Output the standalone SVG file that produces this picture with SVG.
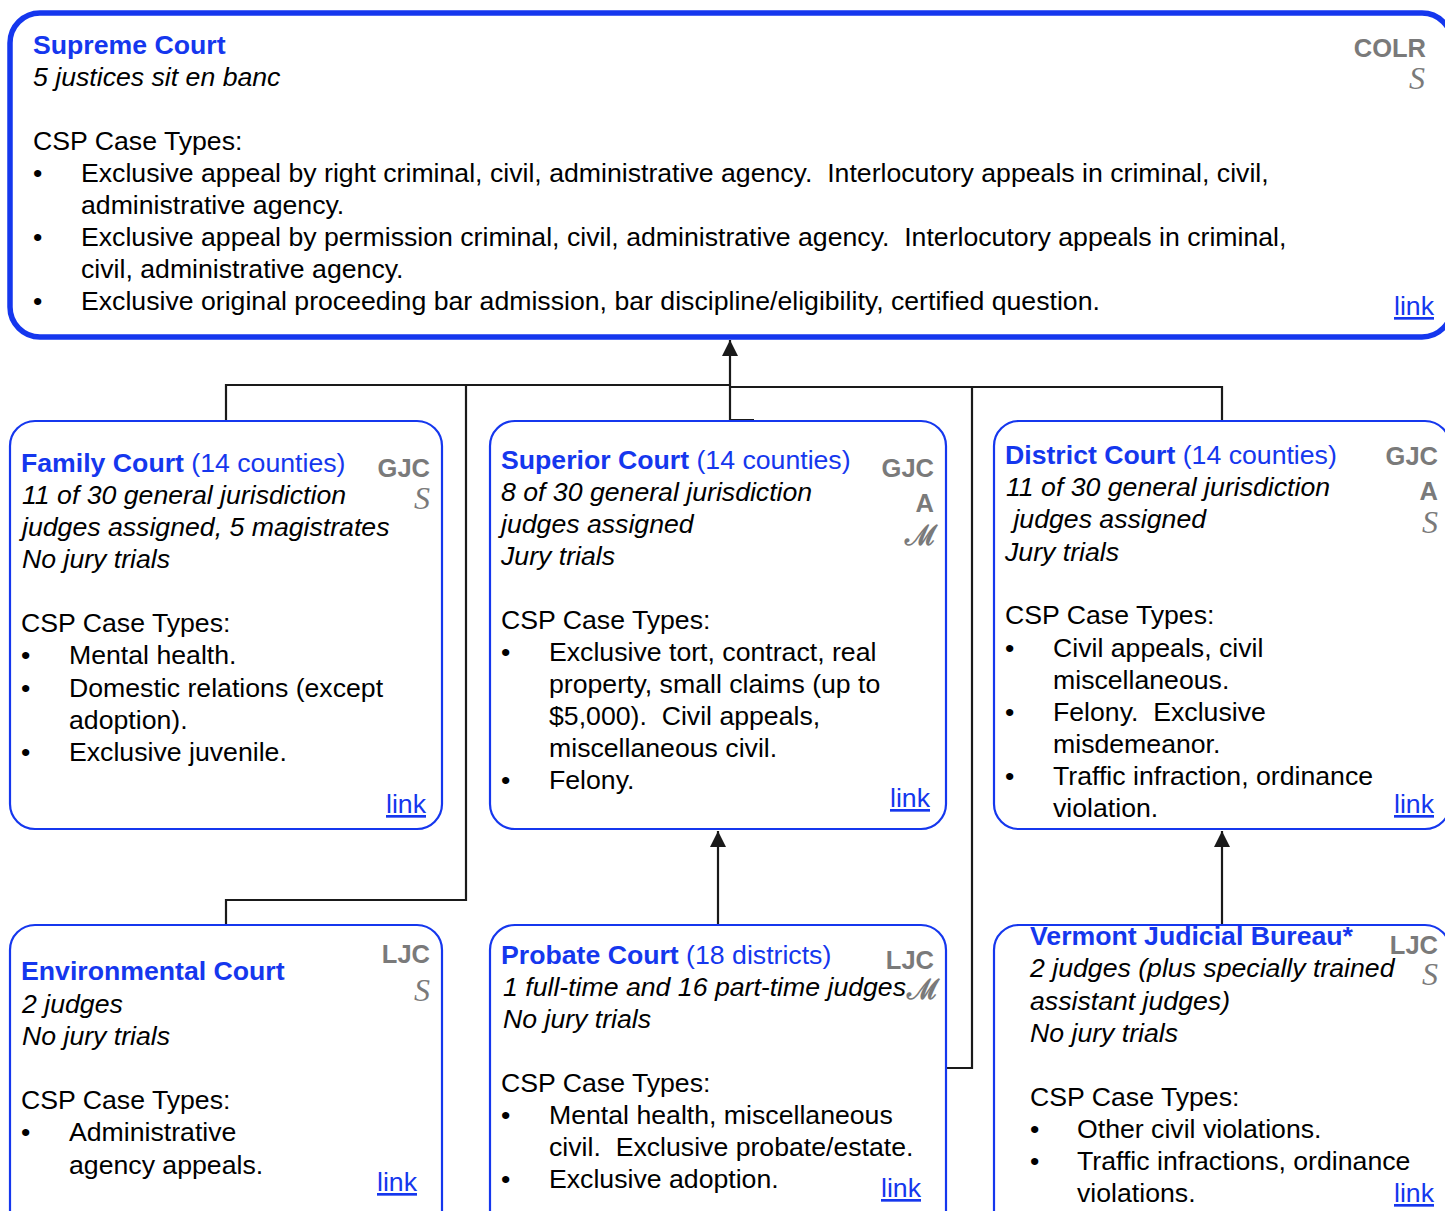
<svg xmlns="http://www.w3.org/2000/svg" width="1445" height="1211" viewBox="0 0 1445 1211">
  <style>
    text { font-family: "Liberation Sans", Arial, sans-serif; font-size: 26.67px; fill: #000; white-space: pre; }
    .title { fill: #1537EE; }
    .title .b { font-weight: bold; }
    .it { font-style: italic; }
    .link { fill: #1537EE; text-decoration: underline; }
    .lvl { fill: #7a7a7a; font-weight: bold; font-size: 25.5px; text-anchor: end; }
    .sym { fill: #7a7a7a; font-family: "Liberation Serif", "Times New Roman", serif; font-style: italic; font-size: 32px; text-anchor: end; }
    .scr { fill: #7a7a7a; font-family: "DejaVu Serif", serif; font-weight: bold; font-size: 28px; text-anchor: end; }
    .box { fill: #fff; stroke: #1537EE; stroke-width: 2.2; }
    .wire { fill: none; stroke: #1a1a1a; stroke-width: 2.2; }
  </style>
  <defs>
    <marker id="arrow" viewBox="0 0 16 16" refX="16" refY="8" markerWidth="16" markerHeight="16" markerUnits="userSpaceOnUse" orient="auto">
      <path d="M0,0 L16,8 L0,16 Z" fill="#1a1a1a"/>
    </marker>
  </defs>
  <rect width="1445" height="1211" fill="#fff"/>

  <!-- Supreme Court -->
  <g id="supreme">
    <rect x="10" y="13" width="1442" height="324" rx="30" fill="#fff" stroke="#1537EE" stroke-width="5.5"/>
    <text x="33" y="54" class="title"><tspan class="b">Supreme Court</tspan></text>
    <text x="33" y="86" class="it">5 justices sit en banc</text>
    <text x="33" y="150">CSP Case Types:</text>
    <text x="33" y="182">•</text>
    <text x="81" y="182">Exclusive appeal by right criminal, civil, administrative agency.  Interlocutory appeals in criminal, civil,</text>
    <text x="81" y="214">administrative agency.</text>
    <text x="33" y="246">•</text>
    <text x="81" y="246">Exclusive appeal by permission criminal, civil, administrative agency.  Interlocutory appeals in criminal,</text>
    <text x="81" y="278">civil, administrative agency.</text>
    <text x="33" y="310">•</text>
    <text x="81" y="310">Exclusive original proceeding bar admission, bar discipline/eligibility, certified question.</text>
    <text x="1394" y="315" class="link">link</text>
    <text x="1426" y="57" class="lvl">COLR</text>
    <text x="1425" y="89" class="sym">S</text>
  </g>

  <!-- Connectors -->
  <g id="connectors">
    <path class="wire" d="M754,420 H730 V340" marker-end="url(#arrow)"/>
    <path class="wire" d="M226,421 V385 H730"/>
    <path class="wire" d="M730,387 H1222 V421"/>
    <path class="wire" d="M226,925 V900 H466 V385"/>
    <path class="wire" d="M946,1068 H972 V387"/>
    <path class="wire" d="M718,925 V831" marker-end="url(#arrow)"/>
    <path class="wire" d="M1222,925 V831" marker-end="url(#arrow)"/>
  </g>

  <!-- Family Court -->
  <g id="family">
    <rect x="10" y="421" width="432" height="408" rx="25" class="box"/>
    <text x="21" y="472" class="title"><tspan class="b">Family Court</tspan> (14 counties)</text>
    <text x="22" y="504" class="it">11 of 30 general jurisdiction</text>
    <text x="22" y="536" class="it">judges assigned, 5 magistrates</text>
    <text x="22" y="568" class="it">No jury trials</text>
    <text x="21" y="632">CSP Case Types:</text>
    <text x="21" y="664">•</text><text x="69" y="664">Mental health.</text>
    <text x="21" y="697">•</text><text x="69" y="697">Domestic relations (except</text>
    <text x="69" y="729">adoption).</text>
    <text x="21" y="761">•</text><text x="69" y="761">Exclusive juvenile.</text>
    <text x="386" y="813" class="link">link</text>
    <text x="430" y="477" class="lvl">GJC</text>
    <text x="430" y="509" class="sym">S</text>
  </g>

  <!-- Superior Court -->
  <g id="superior">
    <rect x="490" y="421" width="456" height="408" rx="25" class="box"/>
    <text x="501" y="469" class="title"><tspan class="b">Superior Court</tspan> (14 counties)</text>
    <text x="501" y="501" class="it">8 of 30 general jurisdiction</text>
    <text x="501" y="533" class="it">judges assigned</text>
    <text x="501" y="565" class="it">Jury trials</text>
    <text x="501" y="629">CSP Case Types:</text>
    <text x="501" y="661">•</text><text x="549" y="661">Exclusive tort, contract, real</text>
    <text x="549" y="693">property, small claims (up to</text>
    <text x="549" y="725">$5,000).  Civil appeals,</text>
    <text x="549" y="757">miscellaneous civil.</text>
    <text x="501" y="789">•</text><text x="549" y="789">Felony.</text>
    <text x="890" y="807" class="link">link</text>
    <text x="934" y="477" class="lvl">GJC</text>
    <text x="934" y="512" class="lvl">A</text>
    <text x="937" y="545" class="scr">ℳ</text>
  </g>

  <!-- District Court -->
  <g id="district">
    <rect x="994" y="421" width="456" height="408" rx="25" class="box"/>
    <text x="1005" y="464" class="title"><tspan class="b">District Court</tspan> (14 counties)</text>
    <text x="1006" y="496" class="it">11 of 30 general jurisdiction</text>
    <text x="1006" y="528" class="it"> judges assigned</text>
    <text x="1005" y="561" class="it">Jury trials</text>
    <text x="1005" y="624">CSP Case Types:</text>
    <text x="1005" y="657">•</text><text x="1053" y="657">Civil appeals, civil</text>
    <text x="1053" y="689">miscellaneous.</text>
    <text x="1005" y="721">•</text><text x="1053" y="721">Felony.  Exclusive</text>
    <text x="1053" y="753">misdemeanor.</text>
    <text x="1005" y="785">•</text><text x="1053" y="785">Traffic infraction, ordinance</text>
    <text x="1053" y="817">violation.</text>
    <text x="1394" y="813" class="link">link</text>
    <text x="1438" y="465" class="lvl">GJC</text>
    <text x="1438" y="500" class="lvl">A</text>
    <text x="1438" y="533" class="sym">S</text>
  </g>

  <!-- Environmental Court -->
  <g id="environmental">
    <rect x="10" y="925" width="432" height="320" rx="25" class="box"/>
    <text x="21" y="980" class="title"><tspan class="b">Environmental Court</tspan></text>
    <text x="22" y="1013" class="it">2 judges</text>
    <text x="22" y="1045" class="it">No jury trials</text>
    <text x="21" y="1109">CSP Case Types:</text>
    <text x="21" y="1141">•</text><text x="69" y="1141">Administrative</text>
    <text x="69" y="1174">agency appeals.</text>
    <text x="377" y="1191" class="link">link</text>
    <text x="430" y="963" class="lvl">LJC</text>
    <text x="430" y="1001" class="sym">S</text>
  </g>

  <!-- Probate Court -->
  <g id="probate">
    <rect x="490" y="925" width="456" height="320" rx="25" class="box"/>
    <text x="501" y="964" class="title"><tspan class="b">Probate Court</tspan> (18 districts)</text>
    <text x="503" y="996" class="it">1 full-time and 16 part-time judges</text>
    <text x="503" y="1028" class="it">No jury trials</text>
    <text x="501" y="1092">CSP Case Types:</text>
    <text x="501" y="1124">•</text><text x="549" y="1124">Mental health, miscellaneous</text>
    <text x="549" y="1156">civil.  Exclusive probate/estate.</text>
    <text x="501" y="1188">•</text><text x="549" y="1188">Exclusive adoption.</text>
    <text x="881" y="1197" class="link">link</text>
    <text x="934" y="969" class="lvl">LJC</text>
    <text x="939" y="999" class="scr">ℳ</text>
  </g>

  <!-- Vermont Judicial Bureau -->
  <g id="vermont">
    <rect x="994" y="925" width="456" height="320" rx="25" class="box"/>
    <text x="1030" y="945" class="title"><tspan class="b">Vermont Judicial Bureau*</tspan></text>
    <text x="1030" y="977" class="it">2 judges (plus specially trained</text>
    <text x="1030" y="1010" class="it">assistant judges)</text>
    <text x="1030" y="1042" class="it">No jury trials</text>
    <text x="1030" y="1106">CSP Case Types:</text>
    <text x="1030" y="1138">•</text><text x="1077" y="1138">Other civil violations.</text>
    <text x="1030" y="1170">•</text><text x="1077" y="1170">Traffic infractions, ordinance</text>
    <text x="1077" y="1202">violations.</text>
    <text x="1394" y="1202" class="link">link</text>
    <text x="1438" y="954" class="lvl">LJC</text>
    <text x="1438" y="985" class="sym">S</text>
  </g>
</svg>
